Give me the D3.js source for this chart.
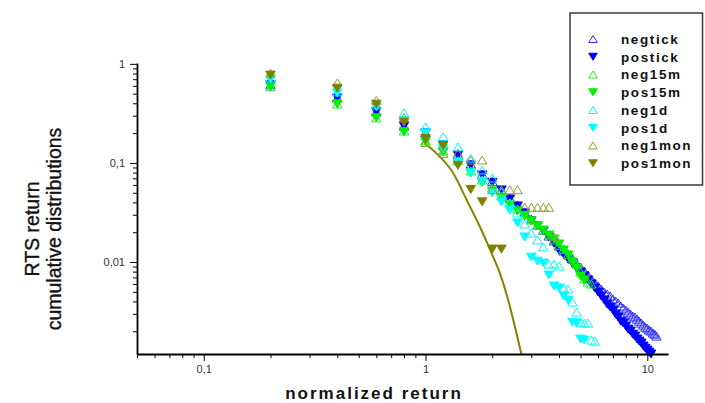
<!DOCTYPE html>
<html>
<head>
<meta charset="utf-8">
<script src="https://cdn.jsdelivr.net/npm/d3@7/dist/d3.min.js"></script>
<style>
  body { margin: 0; background: #ffffff; }
  svg { display: block; font-family: "Liberation Sans", Arial, sans-serif; }
</style>
</head>
<body>
<svg id="chart" width="705" height="403"></svg>
<script>
// Normalized return grid (bin positions, step 0.2)
const returns = [0.2, 0.4, 0.6, 0.8, 1.0, 1.2, 1.4, 1.6, 1.8, 2.0, 2.2, 2.4, 2.6, 2.8, 3.0,
  3.2, 3.4, 3.6, 3.8, 4.0, 4.2, 4.4, 4.6, 4.8, 5.0, 5.2, 5.4, 5.6, 5.8, 6.0, 6.2, 6.4, 6.6,
  6.8, 7.0, 7.2, 7.4, 7.6, 7.8, 8.0, 8.2, 8.4, 8.6, 8.8, 9.0, 9.2, 9.4, 9.6, 9.8, 10.0,
  10.2, 10.4, 10.6, 10.8, 11.0];

// Cumulative distributions P(|r| > x), one array per series (aligned with `returns`)
const negtick = [0.614, 0.453, 0.328, 0.236, 0.201, 0.152, 0.123, 0.0977, 0.0774, 0.0652,
  0.0534, 0.0443, 0.0377, 0.0320, 0.0272, 0.0236, 0.0210, 0.0183, 0.0163, 0.0145, 0.0129,
  0.01177, 0.01073, 0.00977, 0.00890, 0.00811, 0.00739, 0.00673, 0.00614, 0.00573, 0.00534,
  0.00498, 0.00475, 0.00454, 0.00423, 0.00404, 0.00385, 0.00359, 0.00343, 0.00327, 0.00312,
  0.00298, 0.00285, 0.00278, 0.00265, 0.00253, 0.00242, 0.00231, 0.00220, 0.00215, 0.00206,
  0.00201, 0.00192, 0.00187, 0.00179];
const postick = [0.614, 0.453, 0.328, 0.236, 0.201, 0.152, 0.120, 0.0954, 0.0756, 0.0637,
  0.0534, 0.0433, 0.0368, 0.0313, 0.0260, 0.0231, 0.0206, 0.0179, 0.0155, 0.0132, 0.0120,
  0.0107, 0.00977, 0.00869, 0.00792, 0.00722, 0.00658, 0.00600, 0.00547, 0.00498, 0.00454,
  0.00413, 0.00376, 0.00351, 0.00327, 0.00298, 0.00278, 0.00253, 0.00242, 0.00226, 0.00210,
  0.00201, 0.00187, 0.00179, 0.00167, 0.00159, 0.00152, 0.00142, 0.00135, 0.00129, 0.00123,
  0.00118];
const neg15m = [0.586, 0.394, 0.285, 0.210, 0.167, 0.132, 0.105, 0.0830, 0.0673, 0.0558,
  0.0464, 0.0395, 0.0343, 0.0298, 0.0266, 0.0236, 0.0210, 0.0187, 0.0167, 0.0148, 0.0135,
  0.0120, 0.0110, 0.00954, 0.00792, 0.00673, 0.00628, 0.00600];
const pos15m = [0.586, 0.394, 0.285, 0.206, 0.163, 0.129, 0.100, 0.0793, 0.0637, 0.0521,
  0.0443, 0.0377, 0.0328, 0.0292, 0.0260, 0.0231, 0.0210, 0.0187, 0.0171, 0.0152, 0.0132,
  0.0118, 0.0100, 0.00869, 0.00722, 0.00658];
const neg1d = [0.722, 0.521, 0.385, 0.320, 0.231, 0.183, 0.145, 0.112, 0.0850, 0.0706,
  0.0510, 0.0395, 0.0313, 0.0242, 0.0196, 0.0167, 0.0142, 0.00954, 0.00954, 0.00911,
  0.00547, 0.00534, 0.00394, 0.00312, 0.00247, 0.00242, 0.00242, 0.00163, 0.00159];
const pos1d = [0.705, 0.509, 0.368, 0.266, 0.201, 0.139, 0.102, 0.0793, 0.0652, 0.0498,
  0.0404, 0.0335, 0.0248, 0.0179, 0.0112, 0.0102, 0.00977, 0.00739, 0.00573, 0.00547,
  0.00454, 0.00413, 0.00247, 0.00242, 0.00167, 0.00163];
const neg1mon = [0.804, 0.643, 0.429, 0.286, 0.161, 0.125, 0.125, 0.107, 0.107, 0.0536,
  0.0536, 0.0536, 0.0536, 0.0357, 0.0357, 0.0357, 0.0357, 0.0357, 0.0179];
const pos1mon = [0.770, 0.568, 0.392, 0.257, 0.176, 0.149, 0.0946, 0.0541, 0.0405, 0.0135,
  0.0135];

// Fitted curve for the monthly returns
const fitX = [1.012, 1.162, 1.334, 1.533, 1.729, 1.987, 2.166, 2.36, 2.53, 2.713];
const fitY = [0.152, 0.1158, 0.0787, 0.0423, 0.0246, 0.01224, 0.00769, 0.00413, 0.00222, 0.00115];

// Axis ticks
const xTickValues = [0.05, 0.06, 0.07, 0.08, 0.09, 0.1, 0.2, 0.3, 0.4, 0.5, 0.6, 0.7, 0.8, 0.9,
  1, 2, 3, 4, 5, 6, 7, 8, 9, 10];
const xTickLabels = { "0.1": "0,1", "1": "1", "10": "10" };
const yTickValues = [0.002, 0.003, 0.004, 0.005, 0.006, 0.007, 0.008, 0.009, 0.01, 0.02, 0.03,
  0.04, 0.05, 0.06, 0.07, 0.08, 0.09, 0.1, 0.2, 0.3, 0.4, 0.5, 0.6, 0.7, 0.8, 0.9, 1];
const yTickLabels = { "0.01": "0,01", "0.1": "0,1", "1": "1" };

const seriesDefs = [
  { name: "negtick", values: negtick, color: "#3030ff", filled: false },
  { name: "postick", values: postick, color: "#0000ff", filled: true },
  { name: "neg15m", values: neg15m, color: "#22f022", filled: false },
  { name: "pos15m", values: pos15m, color: "#00f000", filled: true },
  { name: "neg1d", values: neg1d, color: "#00ffff", filled: false },
  { name: "pos1d", values: pos1d, color: "#00ffff", filled: true },
  { name: "neg1mon", values: neg1mon, color: "#9a9a30", filled: false },
  { name: "pos1mon", values: pos1mon, color: "#808000", filled: true }
];

const svg = d3.select("#chart");
const x = d3.scaleLog().domain([0.05, 12.4]).range([137, 668]);
const y = d3.scaleLog().domain([0.00118, 1.02]).range([354, 63]);

function triUp(cx, cy, w, h) {
  return `M${cx - w / 2},${cy + h / 2}L${cx + w / 2},${cy + h / 2}L${cx},${cy - h / 2}Z`;
}
function triDown(cx, cy, w, h) {
  return `M${cx - w / 2},${cy - h / 2}L${cx + w / 2},${cy - h / 2}L${cx},${cy + h / 2}Z`;
}
const isMajor = d => Math.abs(Math.log10(d) - Math.round(Math.log10(d))) < 1e-9;

// Plot area clip for the fitted curve
svg.append("defs").append("clipPath").attr("id", "plotClip")
  .append("rect").attr("x", 137).attr("y", 40).attr("width", 540).attr("height", 314);

// Fitted curve
const fitPts = fitX.map((v, i) => [v, fitY[i]]);
svg.append("path")
  .datum(fitPts)
  .attr("clip-path", "url(#plotClip)")
  .attr("fill", "none")
  .attr("stroke", "#8a8200")
  .attr("stroke-width", 2)
  .attr("d", d3.line().x(d => x(d[0])).y(d => y(d[1])).curve(d3.curveMonotoneX));

// Markers
const MW = 9.5, MH = 8;
seriesDefs.forEach(s => {
  const pts = s.values.map((v, i) => [returns[i], v]);
  svg.append("g").selectAll("path").data(pts).join("path")
    .attr("d", d => s.filled ? triDown(x(d[0]), y(d[1]), MW, MH) : triUp(x(d[0]), y(d[1]), MW, MH))
    .attr("fill", s.filled ? s.color : "none")
    .attr("stroke", s.color)
    .attr("stroke-width", 1);
});

// Axes
const xAxis = d3.axisBottom(x).tickValues(xTickValues).tickSizeOuter(0).tickPadding(4)
  .tickFormat(d => isMajor(d) ? (xTickLabels[String(+d.toPrecision(3))] || "") : "");
const gx = svg.append("g").attr("transform", "translate(0,354)").call(xAxis);
gx.selectAll(".tick line").attr("y2", d => isMajor(d) ? 7 : 4).attr("stroke", "#000");
gx.selectAll(".tick text").attr("y", 11).attr("font-size", 11).attr("fill", "#333")
  .attr("font-family", "Liberation Sans, Arial, sans-serif");
gx.select(".domain").attr("stroke", "#000").attr("stroke-width", 1.8);

const yAxis = d3.axisLeft(y).tickValues(yTickValues).tickSizeOuter(0).tickPadding(5)
  .tickFormat(d => isMajor(d) ? (yTickLabels[String(+d.toPrecision(3))] || "") : "");
const gy = svg.append("g").attr("transform", "translate(137,0)").call(yAxis);
gy.selectAll(".tick line").attr("x2", d => isMajor(d) ? -7 : -4).attr("stroke", "#000");
gy.selectAll(".tick text").attr("x", -12).attr("font-size", 11).attr("fill", "#333")
  .attr("font-family", "Liberation Sans, Arial, sans-serif");
gy.select(".domain").attr("stroke", "#000").attr("stroke-width", 1.8);

// Axis titles
svg.append("text")
  .attr("x", 374).attr("y", 399)
  .attr("text-anchor", "middle")
  .attr("font-size", 17).attr("font-weight", "bold")
  .attr("letter-spacing", "2px")
  .attr("fill", "#111")
  .text("normalized return");

const yTitle = svg.append("g").attr("transform", "translate(0,229) rotate(-90)");
[["RTS return", 32], ["cumulative distributions", 54]].forEach(([t, off]) => {
  yTitle.append("text").attr("x", 0).attr("y", off).attr("dy", "0.35em")
    .attr("text-anchor", "middle").attr("font-size", 19.5)
    .attr("fill", "#111").attr("stroke", "#111").attr("stroke-width", 0.35)
    .text(t);
});

// Legend
const legend = svg.append("g");
legend.append("rect")
  .attr("x", 570).attr("y", 13).attr("width", 132.5).attr("height", 172)
  .attr("fill", "#fff").attr("stroke", "#3a3a3a").attr("stroke-width", 1.5);
seriesDefs.forEach((s, i) => {
  const cy = 39 + i * 17.75;
  legend.append("path")
    .attr("d", s.filled ? triDown(593, cy, 8.5, 7) : triUp(593, cy, 8.5, 7))
    .attr("fill", s.filled ? s.color : "none")
    .attr("stroke", s.color).attr("stroke-width", 1);
  legend.append("text")
    .attr("x", 621).attr("y", cy).attr("dy", "0.36em")
    .attr("font-size", 13.5).attr("font-weight", "bold")
    .attr("letter-spacing", "1.6px").attr("fill", "#111")
    .text(s.name);
});
</script>
</body>
</html>
